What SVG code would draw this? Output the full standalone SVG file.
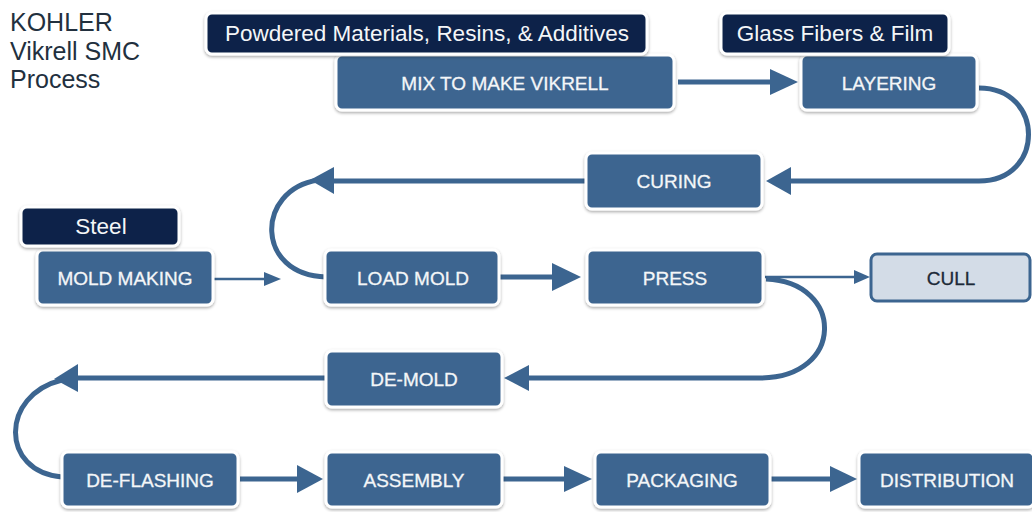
<svg xmlns="http://www.w3.org/2000/svg" width="1032" height="512" viewBox="0 0 1032 512">
<defs>
<filter id="sh" x="-10%" y="-20%" width="120%" height="150%">
<feDropShadow dx="0" dy="1.5" stdDeviation="1.5" flood-color="#000" flood-opacity="0.35"/>
</filter>
<style>
.node rect{fill:#3c6590;stroke:#fff;stroke-width:3;filter:url(#sh)}
.input rect{fill:#0c2449;stroke:#fff;stroke-width:3;filter:url(#sh)}
.cull rect{fill:#d3dce7;stroke:#3c6590;stroke-width:3}
text{font-family:"Liberation Sans",Arial,sans-serif;text-anchor:middle}
.node text{fill:#f4f6f8;font-size:19px;stroke:#f4f6f8;stroke-width:0.3}
.input text{fill:#f4f6f8;font-size:22.5px}
.cull text{fill:#1c2a38;font-size:19px;stroke:#1c2a38;stroke-width:0.3}
.title{fill:#22303e;font-size:25px;text-anchor:start}
.c path,.c line{fill:none;stroke:#3c6590;stroke-width:5}
.c .thin{stroke-width:2.5}
.c polygon{fill:#3c6590}
</style>
</defs>
<rect width="1032" height="512" fill="#fff"/>
<g id="title">
<text class="title" x="10" y="31">KOHLER</text>
<text class="title" x="10" y="60">Vikrell SMC</text>
<text class="title" x="10" y="88">Process</text>
</g>
<g id="connectors" class="c">
<line x1="678" y1="82" x2="772" y2="82"/>
<polygon points="770,69 798,82 770,95"/>
<path d="M979 88 C1045 88 1045 181 979 181 H788"/>
<polygon points="791,167 766,181 791,195"/>
<path d="M587 181 H330"/>
<polygon points="334,167 310,180 334,194"/>
<path d="M318 180 C255 190 255 275 326 277"/>
<line class="thin" x1="214" y1="279" x2="266" y2="279"/>
<polygon points="264,272 281,279 264,286"/>
<line x1="500" y1="277" x2="556" y2="277"/>
<polygon points="552,263 581,277 552,291"/>
<line class="thin" x1="765" y1="277" x2="858" y2="277"/>
<polygon points="854,270 870,277 854,284"/>
<path d="M766 279 C845 282 845 378 760 378 H526"/>
<polygon points="529,365 504,378 529,391"/>
<path d="M327 378 H75"/>
<polygon points="78,364 54,379 78,392"/>
<path d="M62 380 C0 395 0 472 62 477"/>
<line x1="240" y1="479" x2="300" y2="479"/>
<polygon points="297,465 323,479 297,493"/>
<line x1="503" y1="479" x2="567" y2="479"/>
<polygon points="564,466 592,479 564,492"/>
<line x1="771" y1="479" x2="834" y2="479"/>
<polygon points="830,466 857,479 830,492"/>
</g>
<g id="n-mix" class="node"><rect x="336" y="55" width="338" height="55" rx="6"/><text x="505" y="89.5">MIX TO MAKE VIKRELL</text></g>
<g id="in-powder" class="input"><rect x="206" y="13" width="441" height="41" rx="6"/><text x="427" y="41">Powdered Materials, Resins, &amp; Additives</text></g>
<g id="n-layering" class="node"><rect x="801" y="55" width="176" height="55" rx="6"/><text x="889" y="89.5">LAYERING</text></g>
<g id="in-glass" class="input"><rect x="721" y="13" width="228" height="41" rx="6"/><text x="835" y="41">Glass Fibers &amp; Film</text></g>
<g id="n-curing" class="node"><rect x="586" y="153" width="176" height="56" rx="6"/><text x="674" y="188">CURING</text></g>
<g id="n-mold" class="node"><rect x="37" y="250" width="176" height="55" rx="6"/><text x="125" y="284.5">MOLD MAKING</text></g>
<g id="in-steel" class="input"><rect x="21" y="207" width="158" height="39" rx="6"/><text x="101" y="234">Steel</text></g>
<g id="n-load" class="node"><rect x="325" y="250" width="174" height="55" rx="6"/><text x="413" y="284.5">LOAD MOLD</text></g>
<g id="n-press" class="node"><rect x="587" y="250" width="176" height="55" rx="6"/><text x="675" y="284.5">PRESS</text></g>
<g id="n-cull" class="cull"><rect x="871" y="254" width="159" height="47" rx="6"/><text x="951" y="284.5">CULL</text></g>
<g id="n-demold" class="node"><rect x="326" y="351" width="176" height="56" rx="6"/><text x="414" y="386">DE-MOLD</text></g>
<g id="n-deflash" class="node"><rect x="62" y="452" width="176" height="55" rx="6"/><text x="150" y="486.5">DE-FLASHING</text></g>
<g id="n-assembly" class="node"><rect x="326" y="452" width="176" height="55" rx="6"/><text x="414" y="486.5">ASSEMBLY</text></g>
<g id="n-packaging" class="node"><rect x="595" y="452" width="175" height="55" rx="6"/><text x="682" y="486.5">PACKAGING</text></g>
<g id="n-distribution" class="node"><rect x="859" y="452" width="175" height="55" rx="6"/><text x="947" y="486.5">DISTRIBUTION</text></g>
</svg>
